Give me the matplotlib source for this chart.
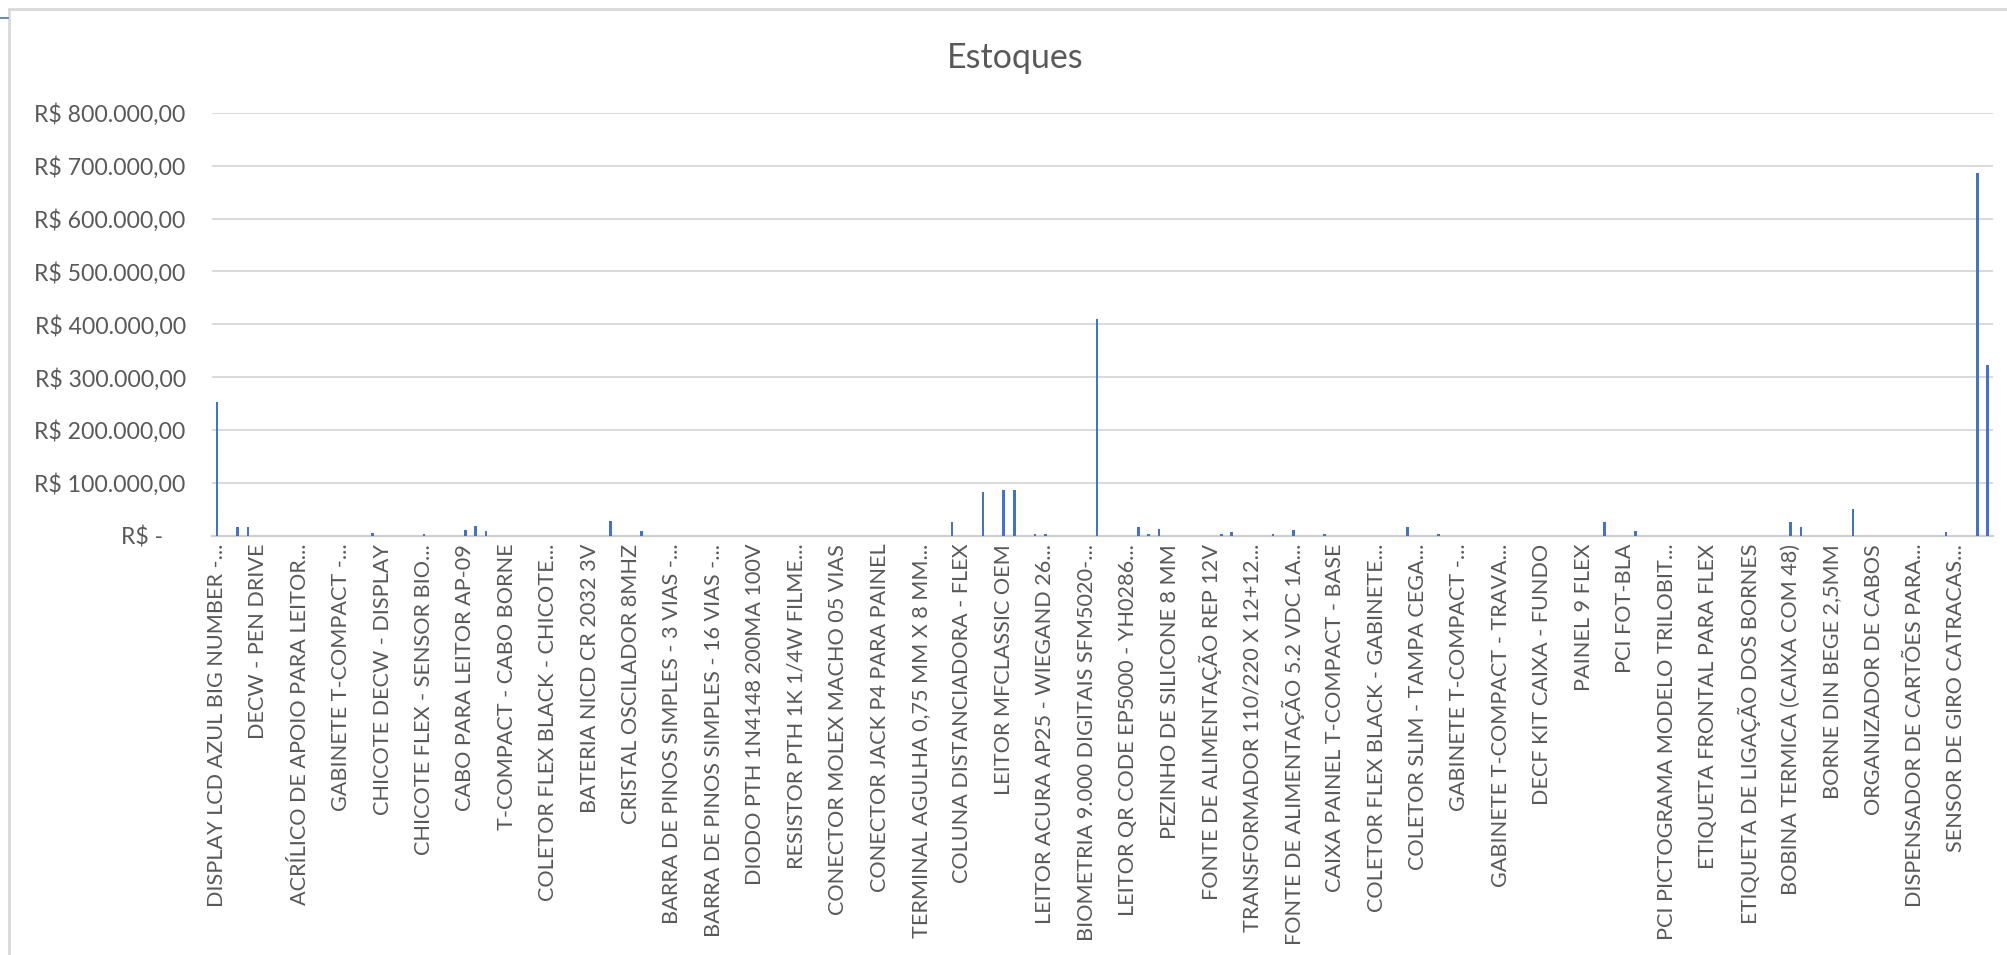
import matplotlib.pyplot as plt
import numpy as np
from matplotlib.ticker import FuncFormatter
from matplotlib.transforms import ScaledTranslation

plt.rcParams['font.family'] = ['Lato', 'DejaVu Sans']

# stock value per item (R$), 172 items, in the order of the sheet
values = [
    252000, 0, 16000, 16000, 0, 0, 0, 0, 0, 0,
    0, 0, 0, 0, 0, 4000, 0, 0, 0, 0,
    3000, 0, 0, 0, 11000, 18000, 9000, 0, 0, 0,
    0, 0, 0, 0, 0, 0, 0, 0, 28000, 0,
    0, 9000, 0, 0, 0, 0, 0, 0, 0, 0,
    0, 0, 0, 0, 0, 0, 0, 0, 0, 0,
    0, 0, 0, 0, 0, 0, 0, 0, 0, 0,
    0, 26000, 0, 0, 82000, 0, 87000, 87000, 0, 3000,
    3000, 0, 0, 0, 0, 410000, 0, 0, 0, 16000,
    3000, 13000, 0, 0, 0, 0, 0, 2000, 7000, 0,
    0, 0, 3000, 0, 10000, 0, 0, 2000, 0, 0,
    0, 0, 0, 0, 0, 16000, 0, 0, 2000, 0,
    0, 0, 0, 0, 0, 0, 0, 0, 0, 0,
    0, 0, 0, 0, 26000, 0, 0, 8000, 0, 0,
    0, 0, 0, 0, 0, 0, 0, 0, 0, 0,
    0, 0, 26000, 16000, 0, 0, 0, 0, 51000, 0,
    0, 0, 0, 0, 0, 0, 0, 7000, 0, 0,
    687000, 323000,
]

# Excel only shows every 4th item name
label_step = 4
tick_labels = [
    "DISPLAY LCD AZUL BIG NUMBER -...",
    "DECW - PEN DRIVE",
    "ACRÍLICO DE APOIO PARA LEITOR...",
    "GABINETE T-COMPACT -...",
    "CHICOTE DECW - DISPLAY",
    "CHICOTE FLEX - SENSOR BIO...",
    "CABO PARA LEITOR AP-09",
    "T-COMPACT - CABO BORNE",
    "COLETOR FLEX BLACK - CHICOTE...",
    "BATERIA NICD CR 2032 3V",
    "CRISTAL OSCILADOR 8MHZ",
    "BARRA DE PINOS SIMPLES - 3 VIAS -...",
    "BARRA DE PINOS SIMPLES - 16 VIAS -...",
    "DIODO PTH 1N4148 200MA 100V",
    "RESISTOR PTH 1K 1/4W FILME...",
    "CONECTOR MOLEX MACHO 05 VIAS",
    "CONECTOR JACK P4 PARA PAINEL",
    "TERMINAL AGULHA 0,75 MM X 8 MM...",
    "COLUNA DISTANCIADORA - FLEX",
    "LEITOR MFCLASSIC OEM",
    "LEITOR ACURA AP25 - WIEGAND 26...",
    "BIOMETRIA 9.000 DIGITAIS SFM5020-...",
    "LEITOR QR CODE EP5000 - YH0286...",
    "PEZINHO DE SILICONE 8 MM",
    "FONTE DE ALIMENTAÇÃO REP 12V",
    "TRANSFORMADOR 110/220 X 12+12...",
    "FONTE DE ALIMENTAÇÃO 5.2 VDC 1A...",
    "CAIXA PAINEL T-COMPACT - BASE",
    "COLETOR FLEX BLACK - GABINETE...",
    "COLETOR SLIM - TAMPA CEGA...",
    "GABINETE T-COMPACT -...",
    "GABINETE T-COMPACT - TRAVA...",
    "DECF KIT CAIXA - FUNDO",
    "PAINEL 9 FLEX",
    "PCI FOT-BLA",
    "PCI PICTOGRAMA MODELO TRILOBIT...",
    "ETIQUETA FRONTAL PARA FLEX",
    "ETIQUETA DE LIGAÇÃO DOS BORNES",
    "BOBINA TERMICA (CAIXA COM 48)",
    "BORNE DIN BEGE 2,5MM",
    "ORGANIZADOR DE CABOS",
    "DISPENSADOR DE CARTÕES PARA...",
    "SENSOR DE GIRO CATRACAS...",
]

y_max = 800000
y_step = 100000

txt = '#595959'
grid = '#d9d9d9'
bar_color = '#4472c4'


def brl(v, pos=None):
    if v == 0:
        return 'R$ -'
    s = f"{v:,.2f}".replace(',', 'X').replace('.', ',').replace('X', '.')
    return 'R$ ' + s


fig = plt.figure(figsize=(20.08, 9.55), dpi=100)
ax = fig.add_axes([211.7 / 2008, 1 - 535.5 / 955, 1781 / 2008, (535.5 - 113) / 955])

x = np.arange(len(values))
ax.bar(x, values, width=0.26, color=bar_color, zorder=3)

ax.set_xlim(-0.5, len(values) - 0.5)
ax.set_ylim(0, y_max)
ax.set_yticks(np.arange(0, y_max + 1, y_step))
ax.yaxis.set_major_formatter(FuncFormatter(brl))
ax.yaxis.grid(True, color=grid, linewidth=1.4, zorder=0)
ax.set_axisbelow(True)

ax.set_xticks(x[::label_step])
ax.set_xticklabels(tick_labels, rotation=90, ha='center', va='top')

for s in ['top', 'right', 'left']:
    ax.spines[s].set_visible(False)
ax.spines['bottom'].set_color('#d0d0d0')
ax.spines['bottom'].set_linewidth(1.6)

ax.tick_params(axis='y', length=0, pad=18.7, labelsize=16.6, labelcolor=txt)
ax.tick_params(axis='x', length=0, pad=6, labelsize=15.6, labelcolor=txt)

# accounting format: the dash sits left of the decimals
zero_lab = ax.get_yticklabels()[0]
zero_lab.set_transform(zero_lab.get_transform() + ScaledTranslation(-23 / 100, 0, fig.dpi_scale_trans))

fig.text(1015 / 2008, 1 - 58 / 955, 'Estoques', ha='center', va='center',
         fontsize=24.5, color=txt)

# chart area border
fig.add_artist(plt.Line2D([9 / 2008, 9 / 2008], [0, 1 - 9.5 / 955], color='#d9d9d9', lw=2))
fig.add_artist(plt.Line2D([9 / 2008, 1], [1 - 9.5 / 955, 1 - 9.5 / 955], color='#d9d9d9', lw=2))
fig.add_artist(plt.Line2D([0, 8 / 2008], [1 - 17.7 / 955, 1 - 17.7 / 955], color='#4472c4', lw=1.2))

fig.savefig('out.png', dpi=100, facecolor='white')
